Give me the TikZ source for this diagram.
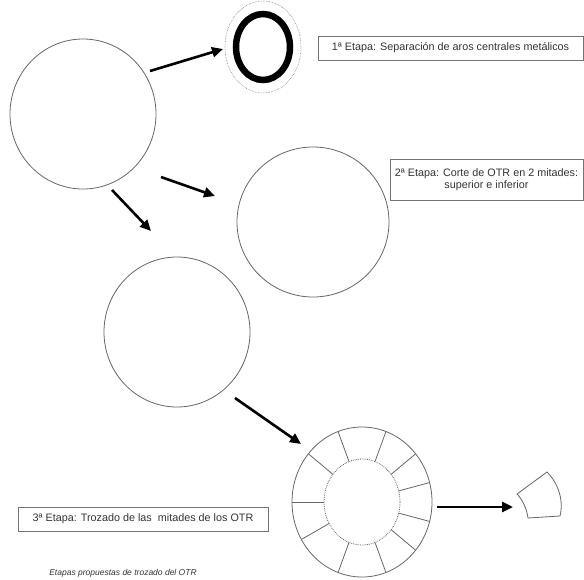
\documentclass[tikz,border=0pt]{standalone}
\usepackage{fontspec}
\setmainfont{Liberation Sans}
\usetikzlibrary{arrows.meta,
                shapes.geometric}

\begin{document}
\begin{tikzpicture}[x=1pt, y=-1pt,
otr/.style = {ellipse, draw=black!60, line width=0.8pt,
              inner sep=0pt, minimum width=146, minimum height=150},
stage/.style = {draw=black!55, line width=0.9pt, text=black!80,
                font=\fontsize{10.8}{12.5}\selectfont, inner sep=0pt,
                align=center},
my arrow/.style = {line width=2.6pt, -{Triangle[length=11pt,width=10pt]}},
piece/.style = {draw=black!60, line width=0.8pt}
                   ]
\useasboundingbox (0,0) rectangle (584,579);
% the tyres
\node[otr] (c1) at (83,114) {};
\node[otr, minimum width=152] (c2) at (313,222) {};
\node[otr] (c3) at (177,332) {};
% stage 1: metal rings
\node[ellipse, draw=black!50, densely dotted, line width=0.6pt,
      minimum width=76, minimum height=92] (ring) at (263,47) {};
\draw[line width=6.5pt] (ring.center) ellipse [x radius=27, y radius=33];
% stage 3: segments
\node[ellipse, draw=black!60, line width=0.8pt,
      minimum width=140, minimum height=150] (seg) at (362,502) {};
\draw[black!60, densely dotted, line width=0.8pt] (seg.center) ellipse [x radius=38, y radius=43];
\foreach \a in {110,70,40,15,-15,-40,-70,-110,-140,180,150}
  \draw[black!60, line width=0.8pt] ([shift={(\a:38 and 43)}]seg.center) -- ([shift={(\a:70 and 75)}]seg.center);
\draw[piece] (517,494) coordinate (p1) -- (547,472) .. controls (558,483) and (564,500) .. (560,516)
             -- (528,518) .. controls (527,510) and (523,500) .. (p1) -- cycle;
% labels
\node[stage, minimum width=265, minimum height=24] (s1) at (450.5,48)
     {1ª Etapa: Separación de aros centrales metálicos};
\node[stage, minimum width=193, minimum height=41] (s2) at (486.5,179.5)
     {2ª Etapa: Corte de OTR en 2 mitades:\\superior e inferior};
\node[stage, minimum width=250, minimum height=24] (s3) at (143,519)
     {3ª Etapa: Trozado de las\ \ mitades de los OTR};
\node[text=black!80, font=\fontsize{8.5}{10}\selectfont\itshape] (cap) at (123,573)
     {Etapas propuestas de trozado del OTR};
% arrows
\coordinate (a1) at (150,71);  \coordinate (b1) at (223,49);
\coordinate (a2) at (161,177); \coordinate (b2) at (215,196);
\coordinate (a3) at (112,190); \coordinate (b3) at (151,231);
\coordinate (a4) at (235,398); \coordinate (b4) at (301,444);
\coordinate (a5) at (437,507); \coordinate (b5) at (513,507);
\foreach \i in {1,...,5}
  \draw[my arrow] (a\i) -- (b\i);

\end{tikzpicture}
\end{document}
